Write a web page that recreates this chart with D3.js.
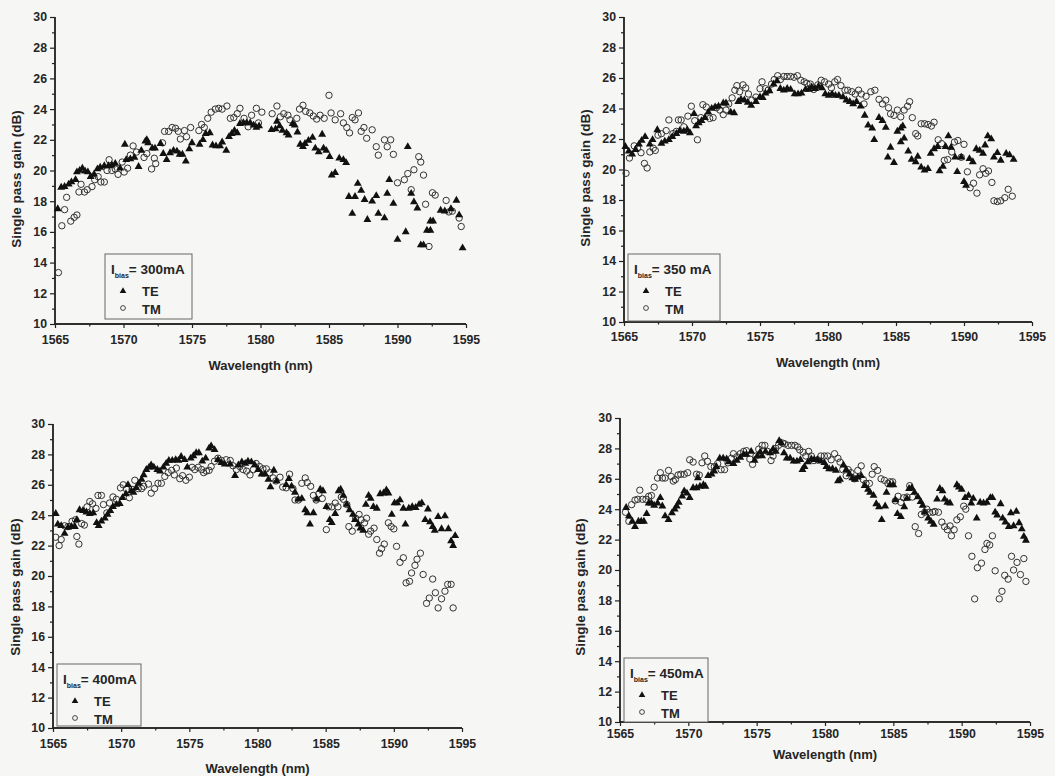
<!DOCTYPE html>
<html lang="en">
<head>
<meta charset="UTF-8">
<title>Single pass gain vs wavelength</title>
<style>
  body { margin: 0; background: #f6f6f4; }
  svg text { font-family: "Liberation Sans", Arial, sans-serif; font-weight: bold; fill: #252525; }
</style>
</head>
<body>
<svg width="1055" height="776"></svg>
<script src="https://d3js.org/d3.v7.min.js"></script>
<script>
// ---- data: [wavelength nm, gain dB] ----
const te300 = [[1565.2,17.5],[1565.45,18.9],[1565.7,18.95],[1566.0,19.1],[1566.2,19.25],[1566.5,19.4],[1566.6,19.9],[1566.8,20.0],[1567.0,20.15],[1567.2,19.95],[1567.4,19.9],[1567.6,19.6],[1567.85,19.75],[1568.1,20.1],[1568.3,20.2],[1568.6,20.3],[1568.9,20.3],[1569.15,20.35],[1569.4,20.45],[1569.75,20.15],[1570.1,21.7],[1570.2,20.7],[1570.5,20.75],[1570.8,20.85],[1571.1,20.25],[1571.3,21.3],[1571.6,21.9],[1571.7,22.0],[1571.8,21.8],[1572.1,21.45],[1572.3,21.45],[1572.7,21.75],[1572.9,21.1],[1573.15,20.7],[1573.4,21.15],[1573.65,21.3],[1573.9,21.25],[1574.1,21.05],[1574.3,21.05],[1574.55,20.6],[1574.8,21.4],[1575.0,21.8],[1575.55,21.7],[1575.8,22.0],[1576.0,22.4],[1576.3,22.45],[1576.5,21.65],[1576.75,21.6],[1577.05,21.6],[1577.2,21.85],[1577.5,21.3],[1577.7,22.2],[1577.9,22.4],[1578.1,22.6],[1578.3,22.45],[1578.5,23.05],[1578.75,23.1],[1579.0,23.1],[1579.25,23.1],[1579.5,22.95],[1579.7,22.8],[1579.9,22.9],[1580.8,22.65],[1581.1,22.7],[1581.2,23.2],[1581.4,22.9],[1581.6,22.6],[1581.9,22.45],[1582.05,22.3],[1582.35,23.05],[1582.5,22.95],[1582.7,22.5],[1582.9,21.7],[1583.1,21.55],[1583.25,21.75],[1583.5,21.95],[1583.8,22.15],[1584.0,21.45],[1584.25,21.2],[1584.5,22.35],[1584.6,21.45],[1584.8,21.3],[1585.05,20.9],[1585.2,19.7],[1585.45,19.85],[1585.75,20.8],[1586.05,20.7],[1586.25,20.5],[1586.45,18.3],[1586.7,17.2],[1586.9,18.3],[1587.1,19.15],[1587.35,18.7],[1587.6,18.1],[1587.8,16.8],[1588.15,18.0],[1588.45,18.35],[1588.6,17.2],[1589.05,16.9],[1589.25,18.5],[1589.4,19.4],[1589.7,17.85],[1590.0,15.5],[1590.6,16.0],[1590.75,21.55],[1591.0,18.5],[1591.2,17.95],[1591.45,17.55],[1591.7,15.15],[1591.9,15.15],[1592.15,16.1],[1592.4,16.1],[1592.4,16.7],[1592.6,16.7],[1593.15,17.4],[1593.45,17.35],[1593.9,17.5],[1594.3,18.05],[1594.5,17.1],[1594.75,14.95]];
const tm300 = [[1565.25,13.35],[1565.5,16.4],[1565.7,17.45],[1565.85,18.25],[1566.15,16.7],[1566.4,16.95],[1566.6,17.1],[1566.75,18.6],[1566.9,19.1],[1567.15,18.6],[1567.35,18.75],[1567.7,18.95],[1567.9,19.4],[1568.15,19.6],[1568.35,19.25],[1568.6,19.25],[1568.8,20.0],[1568.95,20.7],[1569.15,20.0],[1569.4,20.1],[1569.6,19.75],[1569.9,20.55],[1570.05,19.9],[1570.3,20.15],[1570.5,21.0],[1570.7,21.6],[1570.95,21.2],[1571.5,20.85],[1571.7,21.1],[1572.05,20.1],[1572.25,20.8],[1572.35,20.45],[1572.85,21.8],[1573.0,22.55],[1573.3,22.55],[1573.55,22.8],[1573.8,22.75],[1574.0,22.55],[1574.15,22.05],[1574.45,22.6],[1574.6,22.2],[1574.9,22.8],[1575.5,22.6],[1575.7,23.0],[1575.9,22.8],[1576.15,23.4],[1576.4,23.8],[1576.7,24.0],[1576.95,24.05],[1577.2,24.0],[1577.55,24.2],[1577.8,23.4],[1578.05,23.45],[1578.3,23.7],[1578.5,24.05],[1578.8,23.4],[1579.1,22.85],[1579.35,23.6],[1579.7,24.05],[1579.85,23.1],[1580.1,23.8],[1580.85,23.7],[1581.2,24.2],[1581.45,23.5],[1581.7,23.7],[1582.0,23.6],[1582.15,23.3],[1582.65,23.4],[1582.85,24.0],[1583.1,24.25],[1583.3,23.85],[1583.6,23.75],[1583.85,23.55],[1584.1,23.35],[1584.35,23.6],[1584.65,23.4],[1585.0,24.9],[1585.15,23.75],[1585.45,23.3],[1585.85,23.7],[1586.05,23.1],[1586.3,22.8],[1586.5,22.45],[1586.7,23.45],[1586.9,23.3],[1587.15,23.75],[1587.35,22.55],[1587.55,22.8],[1587.75,22.1],[1588.15,22.65],[1588.45,21.55],[1588.6,21.0],[1589.05,22.0],[1589.25,21.55],[1589.5,22.0],[1589.7,21.05],[1590.0,19.2],[1590.5,19.4],[1590.75,19.8],[1591.0,18.75],[1591.2,20.05],[1591.55,20.9],[1591.7,20.55],[1591.9,19.7],[1592.05,17.8],[1592.3,15.05],[1592.55,18.55],[1592.75,18.4],[1593.55,18.05],[1593.75,17.3],[1594.0,17.35],[1594.5,16.9],[1594.65,16.35]];

const te350 = [[1565.1,21.5],[1565.35,21.2],[1565.6,21.0],[1565.85,21.3],[1566.1,21.65],[1566.3,21.9],[1566.55,22.15],[1566.9,21.65],[1567.1,21.95],[1567.45,22.6],[1567.75,21.7],[1568.0,21.85],[1568.3,21.95],[1568.55,22.15],[1568.85,22.35],[1569.1,22.55],[1569.4,22.5],[1569.65,22.6],[1569.85,22.4],[1570.15,23.65],[1570.3,22.85],[1570.5,23.05],[1570.7,23.2],[1570.95,23.4],[1571.2,23.75],[1571.45,24.0],[1571.7,24.1],[1571.95,24.15],[1572.3,24.35],[1572.5,24.35],[1572.85,23.75],[1573.1,23.7],[1573.4,24.45],[1573.6,24.6],[1573.85,24.55],[1574.1,24.4],[1574.35,24.2],[1574.7,24.45],[1575.0,24.75],[1575.2,24.7],[1575.4,25.0],[1575.7,25.15],[1576.0,25.6],[1576.25,25.8],[1576.5,25.3],[1576.75,25.2],[1577.0,25.3],[1577.25,25.25],[1577.55,24.95],[1577.8,24.95],[1578.05,25.0],[1578.35,25.25],[1578.6,25.25],[1578.8,25.4],[1579.05,25.3],[1579.3,25.45],[1579.55,25.35],[1579.8,24.95],[1580.05,24.85],[1580.3,24.95],[1580.55,24.85],[1580.8,24.85],[1581.1,24.75],[1581.35,24.55],[1581.6,24.45],[1581.85,24.3],[1582.1,24.45],[1582.4,24.15],[1582.7,23.55],[1582.95,22.9],[1583.25,22.7],[1583.4,21.95],[1583.75,23.4],[1584.0,23.2],[1584.25,22.75],[1584.4,20.8],[1584.6,21.45],[1584.85,20.45],[1585.1,22.5],[1585.35,22.7],[1585.5,22.85],[1585.35,21.8],[1585.6,22.05],[1585.9,21.2],[1586.15,20.65],[1586.45,20.5],[1586.6,20.85],[1586.85,20.15],[1587.1,19.95],[1587.35,20.05],[1587.55,21.05],[1587.8,21.35],[1588.05,21.5],[1588.2,19.9],[1588.45,20.2],[1588.65,21.5],[1588.85,22.2],[1589.05,21.45],[1589.35,20.8],[1589.5,19.85],[1589.8,20.8],[1590.0,19.2],[1590.15,18.95],[1590.4,20.7],[1590.65,20.5],[1590.9,21.35],[1591.15,21.25],[1591.4,21.05],[1591.55,21.6],[1591.75,22.2],[1592.0,22.0],[1592.2,20.8],[1592.45,21.1],[1592.7,20.6],[1593.1,21.05],[1593.35,20.95],[1593.65,20.65]];
const tm350 = [[1565.15,19.75],[1565.4,20.75],[1565.75,21.55],[1566.0,21.4],[1566.25,21.1],[1566.5,20.4],[1566.7,20.1],[1566.9,21.15],[1567.15,21.4],[1567.3,21.25],[1567.5,22.25],[1567.75,22.35],[1568.1,22.55],[1568.3,23.25],[1568.6,22.35],[1568.85,22.5],[1569.0,23.25],[1569.2,23.25],[1569.4,22.8],[1569.7,23.5],[1569.95,24.15],[1570.2,23.2],[1570.4,21.95],[1570.65,23.4],[1570.8,24.25],[1571.05,24.1],[1571.3,23.35],[1571.55,23.4],[1571.8,24.05],[1572.05,23.9],[1572.3,23.6],[1572.5,23.9],[1572.7,24.3],[1572.95,24.7],[1573.15,25.2],[1573.3,25.5],[1573.5,25.1],[1573.75,25.55],[1573.95,25.35],[1574.15,24.95],[1574.4,24.55],[1574.7,24.75],[1575.0,25.3],[1575.15,25.75],[1575.4,25.3],[1575.6,25.2],[1575.85,25.6],[1576.05,25.9],[1576.3,26.15],[1576.5,25.9],[1576.75,26.1],[1577.0,26.1],[1577.25,26.1],[1577.5,26.05],[1577.75,26.15],[1578.0,25.85],[1578.25,25.75],[1578.45,25.65],[1578.7,25.6],[1578.95,25.25],[1579.25,25.55],[1579.5,25.85],[1579.75,25.75],[1580.05,25.6],[1580.25,25.35],[1580.5,25.75],[1580.7,25.9],[1580.95,25.5],[1581.25,25.2],[1581.45,25.2],[1581.75,25.1],[1582.0,24.95],[1582.25,25.2],[1582.45,24.95],[1582.65,24.3],[1582.8,24.8],[1583.15,25.1],[1583.45,25.2],[1583.75,24.6],[1584.0,24.3],[1584.25,24.55],[1584.45,24.05],[1584.6,23.65],[1584.85,23.55],[1585.1,23.9],[1585.35,23.45],[1585.6,23.9],[1585.85,24.15],[1586.0,24.45],[1586.2,23.4],[1586.45,22.35],[1586.6,22.2],[1586.85,23.0],[1587.1,23.0],[1587.35,22.95],[1587.6,22.85],[1587.8,23.1],[1588.1,21.95],[1588.35,21.7],[1588.55,20.6],[1588.8,20.65],[1589.1,21.15],[1589.3,21.8],[1589.55,21.9],[1589.8,20.8],[1590.0,21.65],[1590.25,19.85],[1590.45,18.8],[1590.7,19.1],[1590.95,18.45],[1591.15,19.65],[1591.4,20.05],[1591.6,19.75],[1591.8,19.9],[1592.05,19.15],[1592.2,17.95],[1592.45,17.9],[1592.7,17.95],[1593.0,18.15],[1593.25,18.7],[1593.55,18.25]];

const te400 = [[1565.2,24.1],[1565.35,23.4],[1565.6,23.3],[1565.85,22.8],[1566.1,23.2],[1566.35,23.25],[1566.6,23.25],[1566.75,23.7],[1566.95,24.35],[1567.2,24.3],[1567.45,24.2],[1567.7,24.1],[1567.95,24.15],[1568.2,23.5],[1568.35,23.3],[1568.55,23.6],[1568.8,23.8],[1569.0,24.05],[1569.2,24.3],[1569.4,24.55],[1569.65,24.7],[1569.9,24.75],[1570.1,25.15],[1570.35,25.4],[1570.5,26.0],[1570.75,25.6],[1570.9,25.5],[1571.1,25.8],[1571.3,26.1],[1571.5,26.35],[1571.65,26.65],[1571.85,27.0],[1572.05,27.15],[1572.2,27.3],[1572.4,27.15],[1572.65,27.0],[1572.85,26.9],[1573.1,27.15],[1573.3,27.4],[1573.5,27.6],[1573.75,27.6],[1574.0,27.65],[1574.2,27.6],[1574.4,27.85],[1574.65,27.65],[1574.85,27.15],[1575.1,27.75],[1575.3,27.9],[1575.5,28.1],[1575.7,28.1],[1575.95,27.55],[1576.2,27.75],[1576.45,28.4],[1576.6,28.55],[1576.85,28.3],[1577.1,27.65],[1577.35,27.45],[1577.6,27.35],[1578.0,27.35],[1578.35,26.6],[1578.6,27.3],[1578.85,27.5],[1579.1,27.4],[1579.3,27.55],[1579.55,27.5],[1579.8,27.3],[1580.05,27.0],[1580.3,26.7],[1580.55,26.7],[1580.8,26.35],[1580.95,25.85],[1581.2,26.95],[1581.4,26.25],[1582.1,26.0],[1582.3,26.4],[1582.5,25.9],[1582.75,25.5],[1583.0,25.05],[1583.25,25.1],[1583.5,24.35],[1583.65,24.15],[1583.85,23.4],[1584.1,24.15],[1584.35,25.05],[1584.6,25.7],[1584.8,25.6],[1585.05,24.55],[1585.3,23.7],[1585.45,23.5],[1585.7,24.1],[1585.95,25.6],[1586.1,25.7],[1586.3,25.3],[1586.55,24.7],[1586.75,24.35],[1587.0,24.05],[1587.15,23.7],[1587.4,23.4],[1587.55,23.15],[1587.75,23.0],[1587.95,24.7],[1588.15,25.3],[1588.3,25.1],[1588.5,24.55],[1588.75,24.45],[1589.0,25.4],[1589.25,25.45],[1589.45,25.65],[1589.6,25.45],[1589.85,24.05],[1590.05,24.8],[1590.25,24.8],[1590.45,25.0],[1590.7,24.45],[1590.85,23.4],[1591.1,24.45],[1591.35,24.55],[1591.6,24.5],[1591.85,24.7],[1592.05,24.8],[1592.3,23.7],[1592.5,24.4],[1592.65,23.55],[1592.85,23.25],[1593.0,23.0],[1593.25,23.9],[1593.5,23.1],[1593.75,23.95],[1594.0,23.1],[1594.2,22.3],[1594.35,22.0],[1594.5,22.65]];
const tm400 = [[1565.2,22.55],[1565.45,22.0],[1565.6,22.4],[1565.85,23.3],[1566.1,23.25],[1566.4,23.6],[1566.65,23.7],[1566.75,22.6],[1566.9,22.1],[1567.1,23.45],[1567.3,23.35],[1567.5,24.55],[1567.7,24.9],[1567.9,24.75],[1568.15,24.45],[1568.3,25.3],[1568.55,25.3],[1568.7,24.7],[1568.95,24.15],[1569.15,24.8],[1569.4,25.2],[1569.65,25.05],[1569.95,25.8],[1570.15,26.0],[1570.4,25.7],[1570.6,25.15],[1570.8,25.7],[1571.0,26.3],[1571.25,25.75],[1571.5,25.75],[1571.65,25.9],[1572.0,26.05],[1572.2,25.45],[1572.45,25.75],[1572.7,26.1],[1572.95,26.1],[1573.2,26.55],[1573.45,26.8],[1573.7,26.95],[1573.9,26.65],[1574.05,27.1],[1574.3,26.4],[1574.5,26.6],[1574.75,26.3],[1575.0,26.5],[1575.2,27.15],[1575.4,27.0],[1575.65,27.15],[1575.9,27.0],[1576.05,26.8],[1576.25,26.9],[1576.45,26.95],[1576.6,27.2],[1576.85,27.55],[1577.1,27.75],[1577.35,27.6],[1577.7,27.65],[1578.0,27.6],[1578.2,27.25],[1578.45,27.0],[1578.7,27.2],[1578.95,27.0],[1579.2,26.9],[1579.45,26.65],[1579.7,27.0],[1579.9,27.4],[1580.15,27.2],[1580.4,27.05],[1580.65,27.05],[1580.9,26.8],[1581.15,26.45],[1581.35,26.25],[1581.65,26.5],[1581.85,25.85],[1582.1,25.8],[1582.35,26.7],[1582.6,25.75],[1582.75,25.0],[1583.0,25.0],[1583.25,26.1],[1583.5,26.45],[1583.65,26.15],[1583.9,25.9],[1584.1,25.3],[1584.3,25.0],[1584.5,25.4],[1584.75,25.1],[1585.05,23.05],[1585.2,24.55],[1585.45,24.55],[1585.7,24.8],[1585.9,24.55],[1586.15,25.2],[1586.3,25.05],[1586.55,24.7],[1586.7,23.25],[1586.95,22.95],[1587.2,23.8],[1587.45,24.05],[1587.6,23.7],[1587.85,23.5],[1588.0,23.8],[1588.15,22.75],[1588.3,22.95],[1588.55,23.15],[1588.75,22.4],[1588.95,21.5],[1589.1,21.8],[1589.3,22.1],[1589.6,23.5],[1589.8,23.25],[1590.0,23.1],[1590.2,21.95],[1590.45,20.9],[1590.7,21.2],[1590.9,19.55],[1591.15,19.65],[1591.3,20.2],[1591.55,20.7],[1591.7,21.1],[1591.95,21.5],[1592.15,20.1],[1592.4,18.2],[1592.6,18.55],[1592.85,19.8],[1593.05,18.9],[1593.25,17.9],[1593.5,18.5],[1593.75,19.0],[1593.95,19.45],[1594.2,19.45],[1594.35,17.9]];

const te450 = [[1565.45,24.1],[1565.65,23.55],[1565.9,23.2],[1566.1,22.85],[1566.35,23.2],[1566.55,23.2],[1566.75,23.2],[1566.95,23.7],[1567.1,24.4],[1567.3,24.4],[1567.5,24.25],[1567.75,24.4],[1567.95,24.75],[1568.1,24.2],[1568.3,23.55],[1568.55,23.3],[1568.8,23.75],[1569.0,24.0],[1569.15,24.2],[1569.3,24.45],[1569.55,24.85],[1569.7,25.2],[1569.9,25.05],[1570.1,24.75],[1570.35,25.4],[1570.6,25.4],[1570.7,26.05],[1570.85,25.5],[1571.1,25.6],[1571.25,25.5],[1571.45,26.2],[1571.7,26.3],[1571.9,26.5],[1572.05,26.8],[1572.3,27.35],[1572.55,27.35],[1572.8,27.3],[1572.95,27.1],[1573.3,27.0],[1573.55,27.2],[1573.8,27.4],[1574.05,27.6],[1574.25,27.6],[1574.6,27.8],[1574.85,27.2],[1575.05,27.5],[1575.25,27.75],[1575.4,27.5],[1575.65,27.8],[1576.0,27.7],[1576.2,27.95],[1576.4,27.8],[1576.65,28.5],[1576.8,28.35],[1577.0,27.7],[1577.2,27.35],[1577.45,27.35],[1577.7,27.15],[1577.95,27.15],[1578.2,27.25],[1578.35,26.6],[1578.5,26.8],[1578.75,27.1],[1579.0,27.3],[1579.2,27.25],[1579.45,27.25],[1579.7,27.15],[1579.95,27.05],[1580.1,26.8],[1580.3,26.65],[1580.55,26.65],[1580.8,26.55],[1580.95,25.85],[1581.1,25.95],[1581.35,26.9],[1581.55,26.6],[1581.8,26.3],[1582.0,26.05],[1582.2,25.95],[1582.4,26.1],[1582.65,26.2],[1582.9,25.55],[1583.15,25.3],[1583.3,25.1],[1583.55,24.9],[1583.75,24.35],[1583.95,24.15],[1584.15,23.3],[1584.4,24.2],[1584.5,25.1],[1584.75,25.6],[1585.0,25.6],[1585.15,24.6],[1585.3,23.7],[1585.55,23.5],[1585.8,24.15],[1586.0,24.7],[1586.15,25.35],[1586.35,25.4],[1586.55,25.1],[1586.8,24.8],[1587.0,24.5],[1587.15,24.25],[1587.3,23.8],[1587.55,23.4],[1587.75,23.2],[1587.95,23.0],[1588.2,24.65],[1588.4,25.35],[1588.6,25.2],[1588.75,24.65],[1588.95,24.45],[1589.15,24.4],[1589.65,25.6],[1589.8,25.45],[1590.0,25.3],[1590.25,24.75],[1590.5,24.9],[1590.7,24.4],[1590.85,24.7],[1591.1,23.4],[1591.35,24.45],[1591.6,24.4],[1591.85,24.45],[1592.1,24.75],[1592.25,24.75],[1592.45,23.8],[1592.6,23.6],[1592.85,24.35],[1593.0,23.4],[1593.2,23.15],[1593.45,22.85],[1593.6,23.75],[1593.8,22.9],[1594.0,23.85],[1594.2,23.1],[1594.4,22.7],[1594.55,22.2],[1594.7,21.95]];
const tm450 = [[1565.4,23.8],[1565.65,23.2],[1565.85,24.3],[1566.1,24.6],[1566.3,24.65],[1566.45,25.25],[1566.65,24.65],[1566.9,24.65],[1567.1,24.85],[1567.3,24.9],[1567.5,25.45],[1567.75,26.05],[1567.95,26.4],[1568.1,26.05],[1568.3,26.05],[1568.55,26.55],[1568.75,26.15],[1568.9,25.85],[1569.05,25.95],[1569.25,26.25],[1569.45,26.3],[1569.7,26.3],[1569.95,26.4],[1570.1,27.25],[1570.35,27.1],[1570.6,26.3],[1570.8,26.25],[1571.0,27.05],[1571.2,27.5],[1571.4,27.15],[1571.65,26.8],[1571.9,26.8],[1572.15,27.0],[1572.4,26.6],[1572.65,26.6],[1572.9,27.05],[1573.15,27.35],[1573.3,27.65],[1573.55,27.45],[1573.8,27.65],[1574.05,27.8],[1574.25,27.85],[1574.5,27.3],[1574.7,26.95],[1574.95,27.5],[1575.15,27.95],[1575.4,28.2],[1575.6,28.2],[1575.8,27.8],[1576.05,27.2],[1576.2,27.5],[1576.4,28.0],[1576.6,28.2],[1576.9,28.35],[1577.05,28.3],[1577.3,28.2],[1577.55,28.2],[1577.8,28.2],[1578.0,28.1],[1578.15,27.9],[1578.4,27.75],[1578.6,27.5],[1578.8,27.8],[1579.0,27.5],[1579.2,27.2],[1579.45,27.25],[1579.7,27.5],[1579.95,27.5],[1580.2,27.5],[1580.45,27.25],[1580.7,27.65],[1580.95,27.35],[1581.1,27.1],[1581.3,26.6],[1581.55,26.2],[1581.7,26.6],[1581.9,26.4],[1582.15,26.0],[1582.4,26.55],[1582.65,26.85],[1582.8,25.95],[1583.0,25.7],[1583.25,25.7],[1583.45,26.3],[1583.6,26.8],[1583.85,26.55],[1584.1,26.0],[1584.35,25.9],[1584.6,25.7],[1584.75,25.8],[1584.95,25.8],[1585.15,24.55],[1585.35,24.85],[1585.55,24.45],[1585.75,24.75],[1586.0,24.8],[1586.2,25.55],[1586.4,24.8],[1586.6,22.85],[1586.85,22.4],[1587.05,23.65],[1587.3,23.8],[1587.45,24.0],[1587.65,23.8],[1587.9,23.8],[1588.05,23.85],[1588.3,23.8],[1588.55,23.15],[1588.75,22.85],[1588.95,22.65],[1589.15,22.9],[1589.25,22.25],[1589.45,22.65],[1589.65,23.3],[1589.9,23.5],[1590.15,24.2],[1590.3,24.0],[1590.5,22.25],[1590.75,20.9],[1590.95,18.1],[1591.15,20.15],[1591.45,20.45],[1591.7,21.35],[1591.85,21.75],[1592.05,21.65],[1592.25,22.25],[1592.45,19.95],[1592.75,18.1],[1592.95,18.6],[1593.15,19.65],[1593.4,19.4],[1593.65,20.9],[1593.8,20.0],[1594.05,20.5],[1594.3,19.7],[1594.55,20.75],[1594.7,19.25]];

const biasLabels = ["300mA", "350 mA", "400mA", "450mA"];
const xTicks = [1565, 1570, 1575, 1580, 1585, 1590, 1595];
const xMinor = [1567.5, 1572.5, 1577.5, 1582.5, 1587.5, 1592.5];
const yTicks = [10, 12, 14, 16, 18, 20, 22, 24, 26, 28, 30];
const yMinor = [11, 13, 15, 17, 19, 21, 23, 25, 27, 29];

// panel frames on the page (scanned figure is not perfectly regular)
const layout = [
  {l: 55,  r: 466,  t: 17,  b: 324, xPad: 7.5, xt: 365, ytx: 16,  yty: 179, lg: [105, 254, 87, 65]},
  {l: 624, r: 1032, t: 17,  b: 322, xPad: 6.5, xt: 362, ytx: 585, yty: 178, lg: [628, 254, 92, 67]},
  {l: 53,  r: 462,  t: 424, b: 728, xPad: 7.5, xt: 768, ytx: 15,  yty: 587, lg: [57, 664, 84, 62]},
  {l: 620, r: 1030, t: 418, b: 722, xPad: 3.5, xt: 754, ytx: 580, yty: 587, lg: [624, 658, 84, 64]}
];
const series = [[te300, tm300], [te350, tm350], [te400, tm400], [te450, tm450]];

const svg = d3.select("svg");
const tri = d3.symbol().type(d3.symbolTriangle).size(27);
const triSmall = d3.symbol().type(d3.symbolTriangle).size(19);

layout.forEach((p, i) => {
  const x = d3.scaleLinear().domain([1565, 1595]).range([p.l, p.r]);
  const y = d3.scaleLinear().domain([10, 30]).range([p.b, p.t]);
  const g = svg.append("g");
  const [te, tm] = series[i];

  // axes
  g.append("g").attr("class", "xax").attr("transform", `translate(0,${p.b})`)
    .call(d3.axisBottom(x).tickValues(xTicks).tickSize(4).tickPadding(p.xPad).tickFormat(d3.format("d")));
  g.append("g").attr("class", "xax").attr("transform", `translate(0,${p.b})`)
    .call(d3.axisBottom(x).tickValues(xMinor).tickSize(2.5).tickFormat(""));
  g.append("g").attr("class", "yax").attr("transform", `translate(${p.l},0)`)
    .call(d3.axisLeft(y).tickValues(yTicks).tickSize(5).tickPadding(3));
  g.append("g").attr("class", "yax").attr("transform", `translate(${p.l},0)`)
    .call(d3.axisLeft(y).tickValues(yMinor).tickSize(3).tickFormat(""));
  g.selectAll(".domain").attr("stroke", "#222").attr("stroke-width", 1.4);
  g.selectAll(".xax .domain").attr("d", `M${p.l},0H${p.r}`);
  g.selectAll(".yax .domain").attr("d", `M0,${p.b}V${p.t}`);
  g.selectAll(".tick line").attr("stroke", "#222").attr("stroke-width", 1.2);
  g.selectAll(".tick text").attr("font-size", 12.3).attr("font-family", null).attr("fill", "#252525");

  // titles
  g.append("text").attr("x", (p.l + p.r) / 2).attr("y", p.xt).attr("dy", "0.35em")
    .attr("text-anchor", "middle").attr("font-size", 13).text("Wavelength (nm)");
  g.append("text").attr("transform", `translate(${p.ytx},${p.yty}) rotate(-90)`).attr("dy", "0.35em")
    .attr("text-anchor", "middle").attr("font-size", 13.5).text("Single pass gain (dB)");

  // data
  g.append("g").selectAll("circle").data(tm).join("circle")
    .attr("cx", d => x(d[0])).attr("cy", d => y(d[1])).attr("r", 3.2)
    .attr("fill", "none").attr("stroke", "#333").attr("stroke-width", 1);
  g.append("g").selectAll("path").data(te).join("path")
    .attr("transform", d => `translate(${x(d[0])},${y(d[1])})`).attr("d", tri).attr("fill", "#111");

  // legend
  const [lx, ly, lw, lh] = p.lg;
  const leg = g.append("g").attr("transform", `translate(${lx},${ly})`);
  leg.append("rect").attr("width", lw).attr("height", lh).attr("fill", "#f6f6f4")
    .attr("stroke", "#666").attr("stroke-width", 1);
  const head = leg.append("text").attr("x", 6).attr("y", 20).attr("font-size", 13.5);
  head.append("tspan").text("I");
  head.append("tspan").attr("font-size", 7).attr("dy", 4).text("bias");
  head.append("tspan").attr("dy", -4).text("= " + biasLabels[i]);
  leg.append("path").attr("transform", "translate(18,37)").attr("d", triSmall).attr("fill", "#111");
  leg.append("circle").attr("cx", 18).attr("cy", 54).attr("r", 2.4)
    .attr("fill", "none").attr("stroke", "#333").attr("stroke-width", 0.9);
  leg.append("text").attr("x", 37).attr("y", 37).attr("dy", "0.36em").attr("font-size", 13).text("TE");
  leg.append("text").attr("x", 37).attr("y", 55).attr("dy", "0.36em").attr("font-size", 13).text("TM");
});
</script>
</body>
</html>
